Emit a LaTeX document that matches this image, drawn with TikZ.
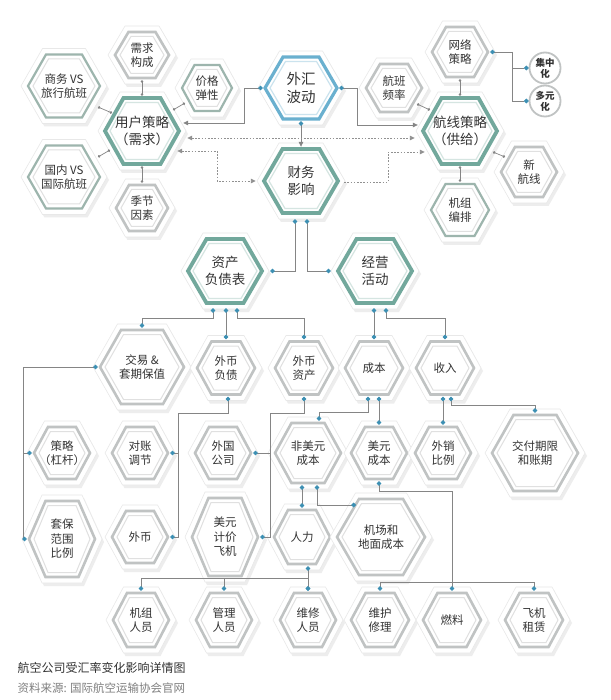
\documentclass[tikz,border=0pt]{standalone}
\usepackage{fontspec}
\setmainfont{Noto Sans CJK SC}
\usetikzlibrary{arrows.meta,calc}

\definecolor{linegray}{HTML}{858585}
\definecolor{dotblue}{HTML}{3B8FB3}
\definecolor{hexgrayc}{HTML}{C0C3C3}
\definecolor{hexsagec}{HTML}{9DB5AD}
\definecolor{hextealc}{HTML}{72A89C}
\definecolor{hexbluec}{HTML}{6AB0CF}
\definecolor{textc}{HTML}{333333}

\tikzset{
  hexgray/.style={draw=hexgrayc, line width=2.6pt},
  hexgray in/.style={draw=black!12, line width=1pt},
  hexgray text/.style={},
  hexsage/.style={draw=hexsagec, line width=2.2pt},
  hexsage in/.style={draw=black!12, line width=1pt},
  hexsage text/.style={},
  hexteal/.style={draw=hextealc, line width=3.8pt},
  hexteal in/.style={draw=hextealc!30, line width=1.2pt},
  hexteal text/.style={font=\fontsize{13.5}{17}\selectfont},
  hexblue/.style={draw=hexbluec, line width=3.2pt},
  hexblue in/.style={draw=hexbluec!35, line width=1.2pt},
  hexblue text/.style={font=\fontsize{14.5}{18}\selectfont},
  hexshadow/.style={fill=black!7, shift={(2,3)}},
  hexhalo/.style={fill=white, draw=black!9, line width=0.6pt},
  hexlabel/.style={inner sep=0pt, align=center, text=textc, font=\fontsize{11.5}{14.5}\selectfont},
  roundnode/.style={circle, draw=hexgrayc, line width=1.8pt, fill=white, minimum size=31pt,
    inner sep=0pt, align=center, text=textc, font=\bfseries\fontsize{9.5}{11}\selectfont},
  link/.style={draw=linegray, line width=0.8pt},
  dotboth/.style={{Circle[length=4.6pt, color=dotblue]}-{Circle[length=4.6pt, color=dotblue]}},
  dotend/.style={-{Circle[length=4.6pt, color=dotblue]}},
  dotarrow/.style={{Circle[length=4.6pt, color=dotblue]}-{Triangle[length=5pt, width=4.6pt]}},
  stub/.style={draw=linegray, line width=0.7pt, {Circle[length=2.6pt]}-{Circle[length=2.6pt]}},
  dotline/.style={draw=linegray!90, line width=0.9pt, dash pattern=on 1.6pt off 1.6pt},
  twoheads/.style={{Triangle[length=5pt, width=4.6pt]}-{Triangle[length=5pt, width=4.6pt]}},
  onehead/.style={-{Triangle[length=5pt, width=4.6pt]}}
}

% hexagon of width #1 and height #2 round the origin
\newcommand{\hexpath}[2]{({-(#1)/2},0) -- ({-(#1)/4},{-(#2)/2}) -- ({(#1)/4},{-(#2)/2})
  -- ({(#1)/2},0) -- ({(#1)/4},{(#2)/2}) -- ({-(#1)/4},{(#2)/2}) -- cycle}

% [look]{name}{x,y}{width}{height}{text}
\newcommand{\hexnode}[6][hexgray]{%
  \begin{scope}[shift={(#3)}]
    \fill[hexshadow] \hexpath{#4+14}{#5+12};
    \filldraw[hexhalo] \hexpath{#4+14}{#5+12};
    \draw[#1] \hexpath{#4}{#5};
    \draw[#1 in] \hexpath{#4-10}{#5-9};
  \end{scope}
  \node[hexlabel, #1 text, minimum width=#4+4, minimum height=#5+4] (#2) at (#3) {#6};
}

\begin{document}
\begin{tikzpicture}[x=1pt, y=1pt, yscale=-1]
\fill[white] (0,0) rectangle (610,700);
\useasboundingbox (0,0) rectangle (610,700);

% demand side
\hexnode{need}{142,55}{54}{46}{需求\\构成}
\hexnode[hexsage]{biz}{64,86}{72}{63}{商务 VS\\旅行航班}
\hexnode[hexsage]{price}{207,88}{50}{46}{价格\\弹性}
\hexnode[hexsage]{dom}{64,177}{72}{63}{国内 VS\\国际航班}
\hexnode{season}{142,208}{52}{46}{季节\\因素}
\hexnode[hexteal]{user}{142,131}{74}{66}{用户策略\\（需求）}

% exchange rate and finance
\hexnode[hexblue]{fx}{301,88}{72}{62}{外汇\\波动}
\hexnode[hexteal]{fin}{301,181}{74}{64}{财务\\影响}

% supply side
\hexnode{freq}{394,88}{56}{48}{航班\\频率}
\hexnode{net}{460,52}{56}{50}{网络\\策略}
\hexnode[hexteal]{route}{460,131}{74}{66}{航线策略\\（供给）}
\hexnode{newr}{529,172}{56}{50}{新\\航线}
\hexnode[hexsage]{crew}{460,210}{58}{52}{机组\\编排}
\node[roundnode] (conc) at (545,68) {集中\\化};
\node[roundnode] (divs) at (545,101) {多元\\化};

% balance sheet / operations
\hexnode[hexteal]{bal}{225,271}{74}{64}{资产\\负债表}
\hexnode[hexteal]{ops}{375,271}{74}{64}{经营\\活动}
\hexnode{hedge}{142,367}{84}{74}{交易 \&\\套期保值}
\hexnode{liab}{226,368}{58}{53}{外币\\负债}
\hexnode{asset}{304,368}{58}{53}{外币\\资产}
\hexnode{cost}{374,368}{58}{53}{成本}
\hexnode{rev}{445,368}{58}{53}{收入}

\hexnode{strat}{62,453}{56}{52}{策略\\（杠杆）}
\hexnode{recon}{140,453}{56}{52}{对账\\调节}
\hexnode{forco}{223,453}{56}{52}{外国\\公司}
\hexnode{nonusd}{308,453}{66}{60}{非美元\\成本}
\hexnode{usdc}{379,453}{56}{52}{美元\\成本}
\hexnode{export}{443,453}{56}{52}{外销\\比例}
\hexnode{term}{535,453}{86}{76}{交付期限\\和账期}

\hexnode{ratio}{62,539}{66}{76}{套保\\范围\\比例}
\hexnode{fxcash}{140,537}{56}{52}{外币}
\hexnode{usdplane}{225,537}{66}{78}{美元\\计价\\飞机}
\hexnode{labor}{302,537}{56}{54}{人力}
\hexnode{airport}{381,537}{88}{76}{机场和\\地面成本}

\hexnode{crewp}{141,620}{56}{54}{机组\\人员}
\hexnode{mgmt}{224,620}{56}{54}{管理\\人员}
\hexnode{maint}{308,620}{56}{54}{维修\\人员}
\hexnode{repair}{380,620}{58}{54}{维护\\修理}
\hexnode{fuel}{452,620}{58}{54}{燃料}
\hexnode{lease}{534,620}{58}{54}{飞机\\租赁}

% short links round the two strategies
\draw[stub] (need.south) -- (user.north);
\draw[stub] (season.north) -- (user.south);
\draw[stub] ($(biz)+(34,21)$) -- ($(user)+(-30,-18)$);
\draw[stub] ($(dom)+(34,-20)$) -- ($(user)+(-32,19)$);
\draw[stub] ($(price)+(-22,15)$) -- ($(user)+(31,-21)$);
\draw[stub] ($(freq)+(23,16)$) -- ($(route)+(-30,-21)$);
\draw[stub] (net.south) -- (route.north);
\draw[stub] ($(newr)+(-24,-15)$) -- ($(route)+(33,21)$);
\draw[stub] (crew.north) -- (route.south);
\draw[link, dotboth] (net.east) -- ++(22,0) |- (conc.west);
\draw[link, dotend] ($(net.east)+(22,0)$) |- (divs.west);

% exchange rate arrows
\draw[link, dotarrow] (fx.west) -- ++(-18,0) |- ($(user.east)+(2,-8)$);
\draw[link, dotarrow] (fx.east) -- ++(18,0) |- ($(route.west)+(-3,-6)$);
\draw[link, dotarrow] (fx.south) -- (fin.north);
\draw[dotline, twoheads] ($(user.east)+(6,7)$) -- ($(route.west)+(-6,7)$);
\draw[dotline, twoheads] ($(user.east)+(-4,20)$) -- ++(40,0) |- ($(fin.west)+(-6,0)$);
\draw[dotline, onehead] ($(fin.east)+(4,1)$) -- ++(44,0) |- ($(route.west)+(4,21)$);

% finance tree
\draw[link, dotboth] ($(fin.south)+(-6,4)$) |- ($(bal.east)+(6,0)$);
\draw[link, dotboth] ($(fin.south)+(6,4)$) |- ($(ops.west)+(-5,0)$);
\draw[link, dotboth] ($(bal.south)+(-12,3)$) -- ++(0,10) -| (hedge.north);
\draw[link, dotboth] ($(bal.south)+(1,3)$) -- (liab.north);
\draw[link, dotboth] ($(bal.south)+(12,3)$) -- ++(0,10) -| (asset.north);
\draw[link, dotboth] ($(ops.south)+(-1,3)$) -- (cost.north);
\draw[link, dotboth] ($(ops.south)+(11,3)$) -- ++(0,10) -| (rev.north);

\draw[link, dotboth] (hedge.west) -- ++(-74,0) |- (ratio.west);
\draw[link, dotend] ($(hedge.west)+(-74,0)$) |- (strat.west);
\draw[link, dotboth] ($(liab.south)+(2,0)$) -- ++(0,17) -| ($(fxcash.east)+(8,0)$) -- (fxcash.east);
\draw[link, dotend] ($(fxcash.east)+(8,0)$) |- (recon.east);
\draw[link, dotboth] (asset.south) -- ++(0,17) -| ($(usdplane.east)+(10,0)$) -- (usdplane.east);
\draw[link, dotend] ($(usdplane.east)+(10,0)$) |- (forco.east);

\draw[link, dotboth] ($(cost.south)+(-6,0)$) -- ++(0,16) -| ($(nonusd.north)+(11,0)$);
\draw[link, dotboth] ($(cost.south)+(5,0)$) -- (usdc.north);
\draw[link, dotboth] ($(rev.south)+(-2,0)$) -- (export.north);
\draw[link, dotboth] ($(rev.south)+(6,0)$) -- ++(0,9) -| (term.north);

\draw[link, dotboth] ($(nonusd.south)+(-6,0)$) -- (labor.north);
\draw[link, dotboth] ($(nonusd.south)+(9,0)$) |- ($(airport)+(-25,-32)$);
\draw[link, dotboth] (usdc.south) -- ++(0,10) -| (fuel.north);
\draw[link, dotboth] (repair.north) -- ++(0,-8) -| (lease.north);
\draw[link, dotboth] ($(labor.south)+(6,0)$) -- (maint.north);
\draw[link, dotboth] (crewp.north) -- ++(0,-12) -| (maint.north);
\draw[link, dotend] ($(mgmt.north)+(0,-12)$) -- (mgmt.north);

% caption
\node[anchor=west, text=textc, font=\fontsize{12}{14}\selectfont] (title) at (14,668) {航空公司受汇率变化影响详情图};
\node[anchor=west, text=black!50, font=\fontsize{11.5}{14}\selectfont] (source) at (14,688) {资料来源: 国际航空运输协会官网};
\end{tikzpicture}
\end{document}
